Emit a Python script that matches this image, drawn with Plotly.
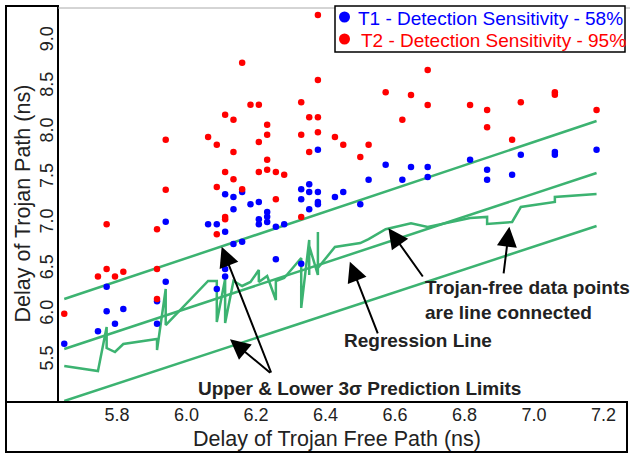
import plotly.graph_objects as go

# ---- data ----
t1_x = [5.648, 5.745, 5.770, 5.770, 5.794, 5.818, 5.915, 5.915, 5.940, 5.940, 6.062, 6.087, 6.087,
        6.111, 6.111, 6.111, 6.111, 6.135, 6.135, 6.135, 6.160, 6.160, 6.184, 6.208, 6.208, 6.208,
        6.232, 6.232, 6.232, 6.257, 6.257, 6.281, 6.330, 6.330, 6.330, 6.353, 6.353, 6.353, 6.378,
        6.378, 6.378, 6.378, 6.427, 6.451, 6.500, 6.524, 6.573, 6.621, 6.646, 6.694, 6.694, 6.816,
        6.865, 6.865, 6.937, 6.962, 7.060, 7.060, 7.180]
t1_y = [5.685, 5.821, 6.310, 6.040, 5.904, 6.066, 6.150, 5.904, 6.365, 7.023, 6.994, 6.994, 6.285,
        7.323, 6.913, 6.504, 6.422, 7.294, 7.159, 6.778, 7.349, 6.804, 7.214, 7.239, 7.049, 6.994,
        7.129, 7.078, 7.020, 6.968, 6.611, 6.994, 7.378, 7.269, 6.562, 7.433, 7.349, 7.159, 7.813,
        7.349, 7.239, 7.214, 7.294, 7.349, 7.214, 7.484, 7.648, 7.484, 7.623, 7.623, 7.513, 7.703,
        7.593, 7.484, 7.538, 7.758, 7.787, 7.758, 7.813]

t2_x = [5.648, 5.745, 5.770, 5.770, 5.794, 5.818, 5.915, 5.915, 5.915, 5.940, 5.940, 6.062, 6.087,
        6.087, 6.087, 6.111, 6.111, 6.111, 6.111, 6.135, 6.135, 6.135, 6.160, 6.160, 6.184, 6.208,
        6.208, 6.208, 6.232, 6.232, 6.232, 6.232, 6.257, 6.257, 6.281, 6.330, 6.330, 6.330, 6.353,
        6.353, 6.378, 6.378, 6.378, 6.378, 6.427, 6.451, 6.500, 6.524, 6.573, 6.621, 6.646, 6.694,
        6.694, 6.816, 6.865, 6.865, 6.937, 6.962, 7.060, 7.060, 7.180]
t2_y = [6.014, 6.422, 6.504, 6.994, 6.422, 6.475, 6.504, 6.940, 6.175, 7.922, 7.374, 7.952, 7.867,
        7.404, 6.885, 8.196, 7.568, 7.075, 7.049, 8.142, 7.787, 7.488, 8.767, 7.378, 8.306, 8.306,
        7.897, 7.568, 8.087, 7.977, 7.703, 7.593, 7.568, 7.269, 7.538, 8.332, 7.977, 7.075, 8.168,
        7.787, 9.290, 8.577, 8.168, 8.004, 7.952, 7.867, 7.733, 7.867, 8.442, 8.142, 8.412, 8.687,
        8.303, 8.303, 8.248, 8.058, 7.922, 8.332, 8.442, 8.416, 8.248]

tf_x = [5.648, 5.745, 5.770, 5.770, 5.794, 5.818, 5.915, 5.915, 5.940, 5.940, 6.062, 6.087, 6.087,
        6.111, 6.111, 6.135, 6.160, 6.184, 6.208, 6.208, 6.232, 6.257, 6.257, 6.281, 6.330, 6.330,
        6.353, 6.353, 6.353, 6.378, 6.378, 6.378, 6.427, 6.500, 6.524, 6.573, 6.646, 6.694, 6.816,
        6.865, 6.865, 6.937, 6.962, 7.060, 7.060, 7.180]
tf_y = [5.441, 5.386, 5.868, 5.638, 5.594, 5.682, 5.737, 5.616, 6.285, 5.890, 6.373, 6.373, 5.923,
        6.395, 5.912, 6.373, 6.318, 6.362, 6.493, 6.362, 6.428, 6.164, 6.373, 6.406, 6.625, 6.077,
        6.822, 6.439, 6.757, 6.439, 6.910, 6.515, 6.746, 6.789, 6.833, 6.940, 7.005, 6.965, 7.064,
        7.075, 6.998, 7.020, 7.184, 7.239, 7.294, 7.327]

lim_x = [5.648, 7.180]
reg_y = [5.627, 7.557]
upper_y = [6.175, 8.127]
lower_y = [5.057, 6.976]

legend_labels = ["T1 - Detection Sensitivity - 58%", "T2 - Detection Sensitivity - 95%"]
x_title = "Delay of Trojan Free Path (ns)"
y_title = "Delay of Trojan Path (ns)"

GREEN = "#3cb371"
FONT = "Liberation Sans"

fig = go.Figure()
for yy in (upper_y, reg_y, lower_y):
    fig.add_trace(go.Scatter(x=lim_x, y=yy, mode="lines",
                             line=dict(color=GREEN, width=2.5), showlegend=False, hoverinfo="skip"))
fig.add_trace(go.Scatter(x=tf_x, y=tf_y, mode="lines",
                         line=dict(color=GREEN, width=2.5), showlegend=False))
fig.add_trace(go.Scatter(x=t1_x, y=t1_y, mode="markers", name=legend_labels[0],
                         marker=dict(color="#0000ff", size=6.5), showlegend=False))
fig.add_trace(go.Scatter(x=t2_x, y=t2_y, mode="markers", name=legend_labels[1],
                         marker=dict(color="#ff0000", size=6.5), showlegend=False))

W, H = 632, 455
L, R, T, B = 58, 4, 8, 53
PW, PH = W - L - R, H - T - B


def px(xp):
    return (xp - L) / PW


def py(yp):
    return (H - B - yp) / PH


fig.update_layout(
    width=W, height=H,
    margin=dict(l=L, r=R, t=T, b=B, pad=0),
    paper_bgcolor="white", plot_bgcolor="white",
    font=dict(family=FONT, color="#222"),
    xaxis=dict(range=[5.630, 7.2705], showgrid=False, zeroline=False, showline=False,
               ticks="", dtick=0.2, tick0=5.8, tickformat=".1f",
               tickfont=dict(family=FONT, size=18, color="#222")),
    yaxis=dict(range=[5.046, 9.366], showgrid=False, zeroline=False, showline=False,
               ticks="", dtick=0.5, tick0=5.5, tickformat=".1f", tickangle=-90,
               tickfont=dict(family=FONT, size=18, color="#222")),
)

shapes = [
    # bottom panel box
    dict(type="rect", xref="paper", yref="paper", x0=px(6), x1=px(627), y0=py(452), y1=py(402),
         line=dict(color="black", width=2)),
    # left panel box
    dict(type="rect", xref="paper", yref="paper", x0=px(6), x1=px(58), y0=py(402), y1=py(6),
         line=dict(color="black", width=2)),
    # top gray line
    dict(type="line", xref="paper", yref="paper", x0=px(58), x1=px(630), y0=py(8), y1=py(8),
         line=dict(color="#aaaaaa", width=1)),
    # legend box
    dict(type="rect", xref="paper", yref="paper", x0=px(335), x1=px(625), y0=py(52), y1=py(6),
         line=dict(color="black", width=1.5), fillcolor="white"),
]
for cy, col in ((17, "#0000ff"), (39, "#ff0000")):
    shapes.append(dict(type="circle", xref="paper", yref="paper", xsizemode="pixel", ysizemode="pixel",
                       xanchor=px(344.5), yanchor=py(cy), x0=-5.5, x1=5.5, y0=-5.5, y1=5.5,
                       fillcolor=col, line=dict(width=0)))
fig.update_layout(shapes=shapes)

ann = []
ann.append(dict(xref="paper", yref="paper", x=px(356), y=py(18.5), xanchor="left", yanchor="middle",
                text=legend_labels[0], showarrow=False, font=dict(size=19, color="#0000ff")))
ann.append(dict(xref="paper", yref="paper", x=px(358.5), y=py(40.5), xanchor="left", yanchor="middle",
                text=legend_labels[1], showarrow=False, font=dict(size=19, color="#ff0000")))
ann.append(dict(xref="paper", yref="paper", x=px(337.4), y=py(438.5), xanchor="center", yanchor="middle",
                text=x_title, showarrow=False, font=dict(size=21.5, color="#222")))
ann.append(dict(xref="paper", yref="paper", x=px(22), y=py(203.5), xanchor="center", yanchor="middle",
                text=y_title, textangle=-90, showarrow=False, font=dict(size=21.5, color="#222")))
# text labels
ann.append(dict(xref="paper", yref="paper", x=px(359.5), y=py(388), xanchor="center", yanchor="middle",
                text="<b>Upper &amp; Lower 3σ Prediction Limits</b>", showarrow=False,
                font=dict(size=19, color="#222")))
ann.append(dict(xref="paper", yref="paper", x=px(418), y=py(340.5), xanchor="center", yanchor="middle",
                text="<b>Regression Line</b>", showarrow=False, font=dict(size=19, color="#222")))
ann.append(dict(xref="paper", yref="paper", x=px(423), y=py(299.5), xanchor="left", yanchor="middle",
                align="left", text="<b>Trojan-free data points<br>are line connected</b>", showarrow=False,
                font=dict(size=19, color="#222")))
# arrows (head, tail) in data coordinates
arrows = [
    ((6.101, 6.749), (6.245, 5.353)),
    ((6.125, 5.733), (6.245, 5.353)),
    ((6.470, 6.584), (6.552, 5.781)),
    ((6.581, 6.951), (6.683, 6.406)),
    ((6.929, 6.968), (6.912, 6.439)),
]
for (hx, hy), (tx, ty) in arrows:
    ann.append(dict(x=hx, y=hy, xref="x", yref="y", ax=tx, ay=ty, axref="x", ayref="y",
                    text="", showarrow=True, arrowhead=2, arrowsize=2, arrowwidth=2,
                    arrowcolor="black"))
fig.update_layout(annotations=ann)

fig.write_html("out.html")
